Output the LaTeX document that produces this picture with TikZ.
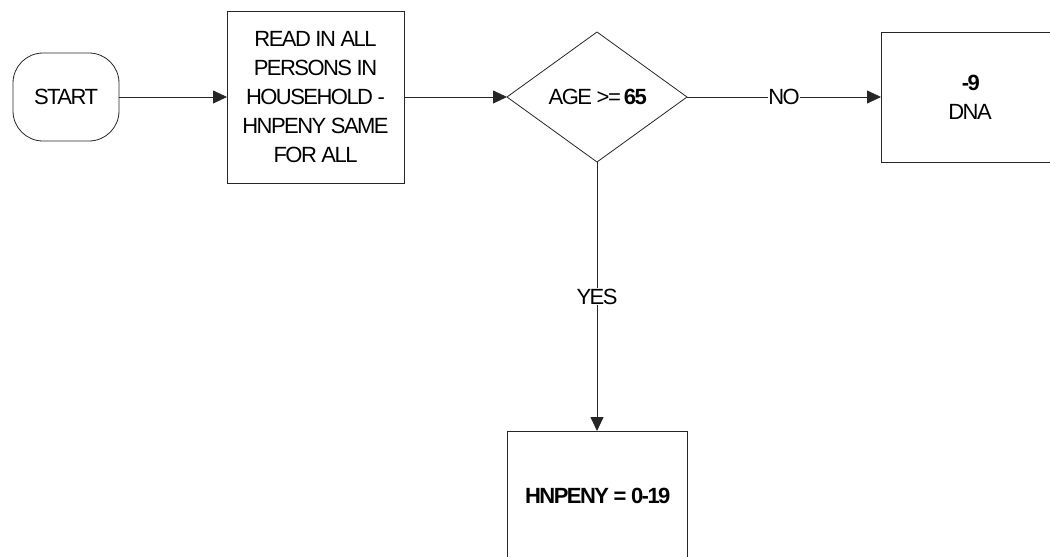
\documentclass[tikz,border=0pt]{standalone}
\usepackage{fontspec}
\setmainfont{Liberation Sans}[LetterSpace=-7]
\usetikzlibrary{shapes.geometric, arrows.meta, positioning}

\tikzset{
  flow/.style={draw=black!85, line width=0.8pt},
  startbox/.style={flow, rounded corners=30pt, minimum width=106pt, minimum height=88pt},
  procbox/.style={flow, minimum width=178pt, minimum height=130pt, align=center},
  decision/.style={flow, diamond, minimum width=180pt, minimum height=130pt, inner sep=1pt},
  link/.style={draw=black!85, line width=0.8pt, -{Triangle[length=14pt,width=13pt]}},
  linklabel/.style={fill=white, inner sep=0.5pt}
}

\begin{document}
\begin{tikzpicture}[x=1pt, y=-1pt, every node/.style={font=\fontsize{22}{29}\selectfont, outer sep=0pt}]
  \useasboundingbox (0,0) rectangle (1050,557);
  \clip (0,0) rectangle (1050,557);
  \node[startbox] (start) at (66,97) {START};
  \node[procbox, minimum width=177pt, minimum height=172pt, right=108pt of start] (readin) {READ IN ALL\\PERSONS IN\\HOUSEHOLD -\\HNPENY SAME\\FOR ALL};
  \node[decision, right=103pt of readin] (age) {AGE >= \textbf{65}};
  \node[procbox, right=194pt of age] (dna) {\textbf{-9}\\DNA};
  \node[procbox, minimum width=180pt, below=269pt of age] (hnpeny) {\textbf{HNPENY = 0-19}};

  \draw[link] (start) -- (readin);
  \draw[link] (readin) -- (age);
  \draw[link] (age) -- node[linklabel] {NO} (dna);
  \draw[link] (age) -- node[linklabel] {YES} (hnpeny);
\end{tikzpicture}
\end{document}
